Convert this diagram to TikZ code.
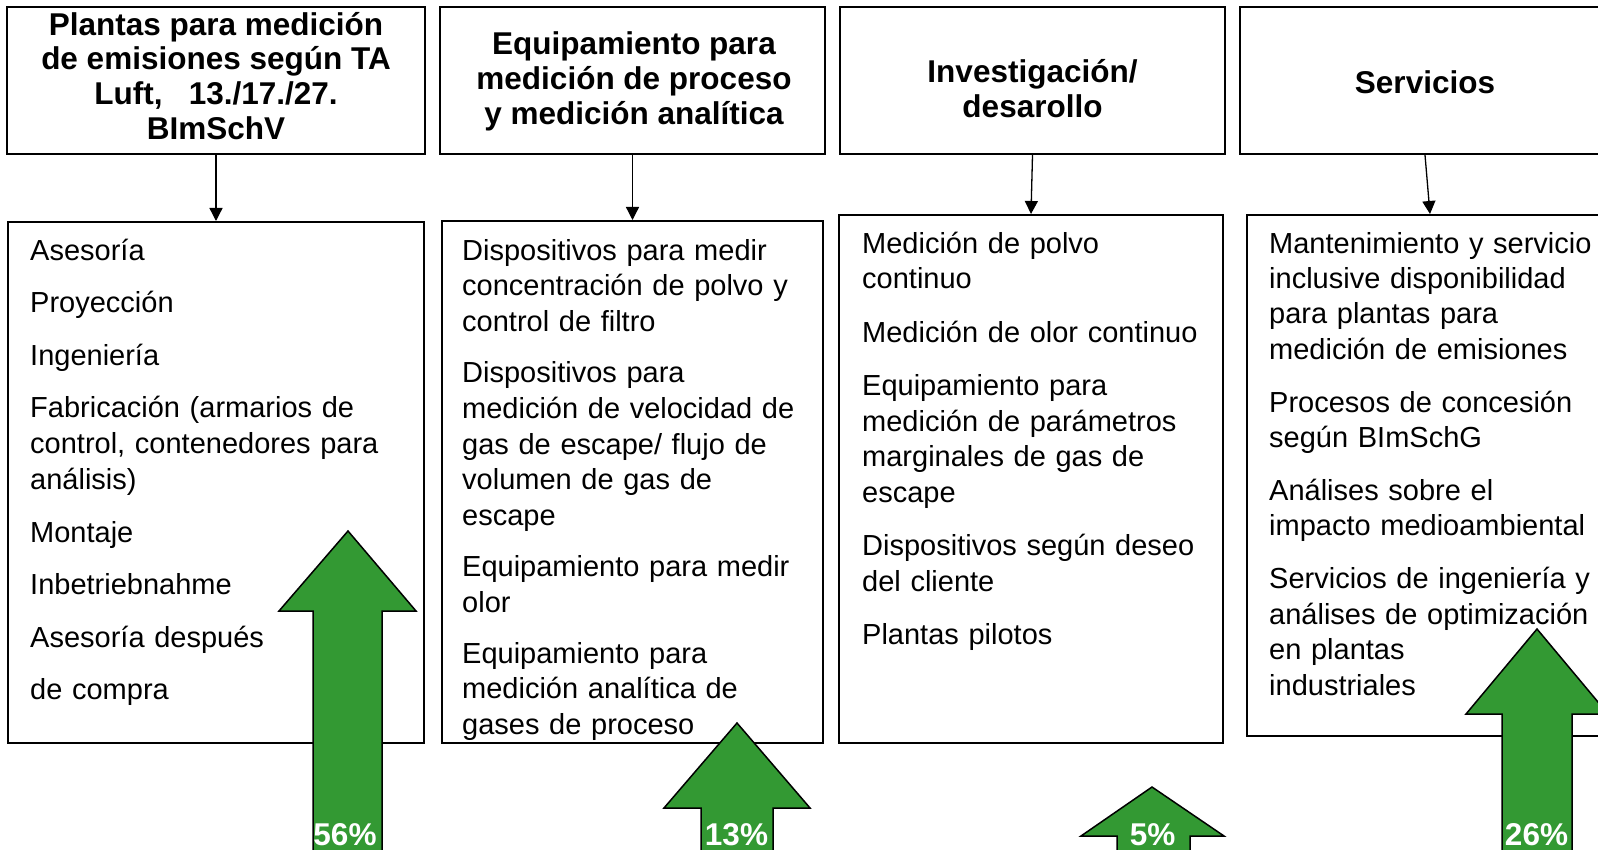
\documentclass[tikz,border=0pt]{standalone}
\usepackage{fontspec}
\setmainfont{Liberation Sans}
\usetikzlibrary{arrows.meta}
\definecolor{arrgreen}{RGB}{51,153,51}
\begin{document}
\begin{tikzpicture}[x=1pt,y=-1pt,
  boxs/.style={draw=black, line width=2pt, rectangle, inner sep=0pt},
  ttl/.style={font=\fontsize{31.5}{35}\selectfont\bfseries, align=center, inner sep=0pt, anchor=north},
  bodytxt/.style={font=\fontsize{29}{36}\selectfont, align=left, text width=380pt, inner sep=0pt, anchor=north west},
  conn/.style={line width=1.3pt, -{Triangle[length=13pt,width=13pt]}},
  bigarrow/.style={fill=arrgreen, draw=black, line width=1.5pt, line join=miter},
  pctlbl/.style={font=\fontsize{31.5}{35}\selectfont\bfseries, text=white, inner sep=0pt, anchor=base}
]
\path[use as bounding box] (0,0) rectangle (1598,850);
\clip (0,0) rectangle (1598,850);
\fill[white] (0,0) rectangle (1598,850);

% top boxes
\node[boxs, minimum width=418pt, minimum height=147pt] (t1) at (216,80.5) {};
\node[boxs, minimum width=385pt, minimum height=147pt] (t2) at (632.5,80.5) {};
\node[boxs, minimum width=385pt, minimum height=147pt] (t3) at (1032.5,80.5) {};
\node[boxs, minimum width=370pt, minimum height=147pt] (t4) at (1425,80.5) {};

% bottom boxes
\node[boxs, minimum width=416pt, minimum height=521pt] (b1) at (216,482.5) {};
\node[boxs, minimum width=381pt, minimum height=522pt] (b2) at (632.5,482) {};
\node[boxs, minimum width=384pt, minimum height=528pt] (b3) at (1031,479) {};
\node[boxs, minimum width=366pt, minimum height=521pt] (b4) at (1430,475.5) {};

% titles
\node[ttl, font=\fontsize{31.5}{34.7}\selectfont\bfseries] (tt1) at (216,9) {\rule{0pt}{26pt}Plantas para medición\\ de emisiones según TA\\ Luft,\ \ \ 13./17./27.\\ BImSchV};
\node[ttl] (tt2) at (634,28) {\rule{0pt}{26pt}Equipamiento para\\ medición de proceso\\ y medición analítica};
\node[ttl] (tt3) at (1032.5,56) {\rule{0pt}{26pt}Investigación/\\ desarollo};
\node[ttl] (tt4) at (1425,67) {\rule{0pt}{26pt}Servicios};

% connectors
\draw[conn] (t1.south) -- (b1.north);
\draw[conn] (t2.south) -- (b2.north);
\draw[conn] (t3.south) -- (b3.north);
\draw[conn] (t4.south) -- (b4.north);

% body texts
\node[bodytxt, font=\fontsize{29}{36}\selectfont] (bt1) at (30,235) {\rule{0pt}{25pt}Asesoría\\[16.5pt]
Proyección\\[16.5pt]
Ingeniería\\[16.5pt]
Fabricación (armarios de\\ control, contenedores para\\ análisis)\\[16.5pt]
Montaje\\[16.5pt]
Inbetriebnahme\\[16.5pt]
Asesoría después\\[16.5pt]
de compra};

\node[bodytxt, font=\fontsize{29}{35.8}\selectfont] (bt2) at (462,235) {\rule{0pt}{25pt}Dispositivos para medir\\ concentración de polvo y\\ control de filtro\\[15pt]
Dispositivos para\\ medición de velocidad de\\ gas de escape/ flujo de\\ volumen de gas de\\ escape\\[15pt]
Equipamiento para medir\\ olor\\[15pt]
Equipamiento para\\ medición analítica de\\ gases de proceso};

\node[bodytxt, font=\fontsize{29}{35.5}\selectfont] (bt3) at (862,228) {\rule{0pt}{25pt}Medición de polvo\\ continuo\\[18pt]
Medición de olor continuo\\[18pt]
Equipamiento para\\ medición de parámetros\\ marginales de gas de\\ escape\\[18pt]
Dispositivos según deseo\\ del cliente\\[18pt]
Plantas pilotos};

\node[bodytxt, font=\fontsize{29}{35.4}\selectfont] (bt4) at (1269,228) {\rule{0pt}{25pt}Mantenimiento y servicio\\ inclusive disponibilidad\\ para plantas para\\ medición de emisiones\\[17.5pt]
Procesos de concesión\\ según BImSchG\\[17.5pt]
Análises sobre el\\ impacto medioambiental\\[17.5pt]
Servicios de ingeniería y\\ análises de optimización\\ en plantas\\ industriales};

% green arrows
\draw[bigarrow] (348,531) -- (416,611) -- (382,611) -- (382,860) -- (313,860) -- (313,611) -- (279,611) -- cycle;
\draw[bigarrow] (737,723) -- (810,808) -- (773,808) -- (773,860) -- (701,860) -- (701,808) -- (664,808) -- cycle;
\draw[bigarrow] (1152,787) -- (1224,836) -- (1190,836) -- (1190,860) -- (1117,860) -- (1117,836) -- (1081,836) -- cycle;
\draw[bigarrow] (1537,629) -- (1608,714) -- (1572,714) -- (1572,860) -- (1502,860) -- (1502,714) -- (1466,714) -- cycle;

% percentages
\node[pctlbl] (p1) at (345,845) {56\%};
\node[pctlbl] (p2) at (736.5,845) {13\%};
\node[pctlbl] (p3) at (1152.5,845) {5\%};
\node[pctlbl] (p4) at (1536.5,845) {26\%};
\end{tikzpicture}
\end{document}
